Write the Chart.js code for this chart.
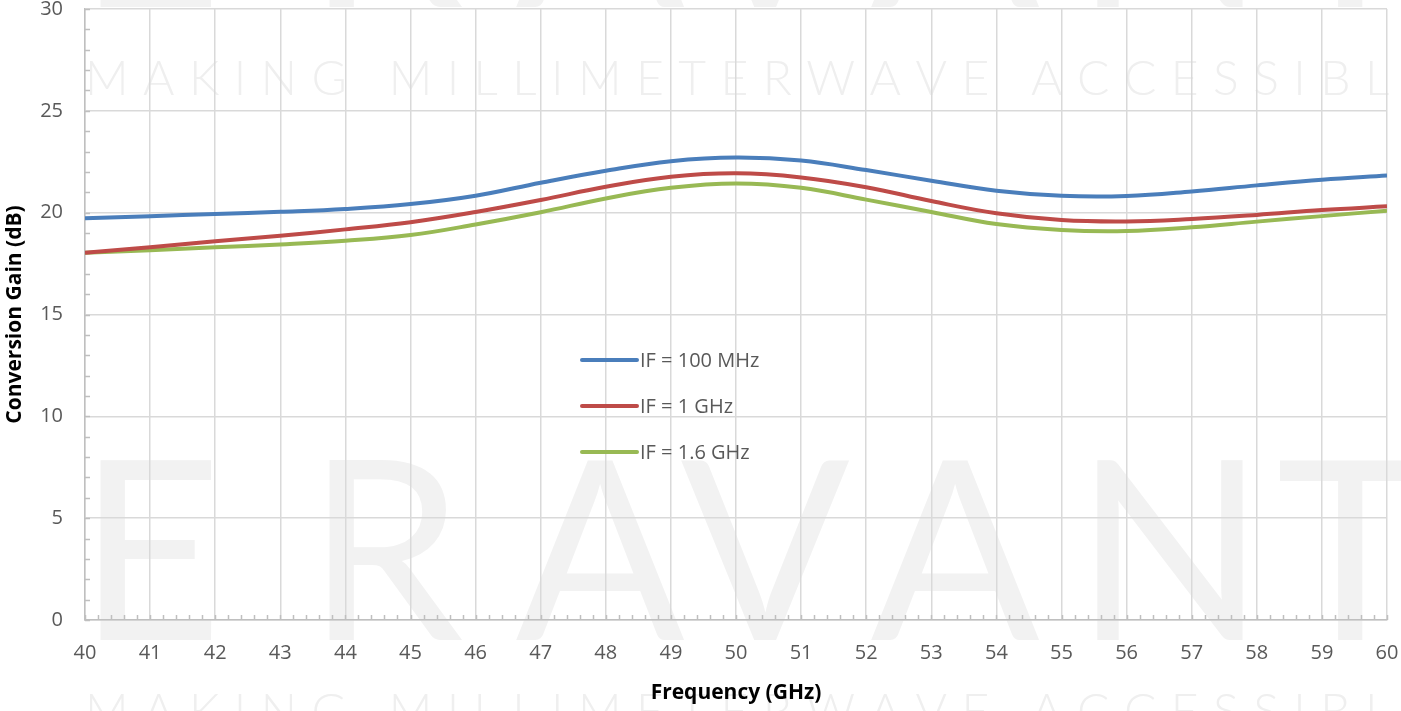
<!DOCTYPE html>
<html>
<head>
<meta charset="utf-8">
<script src="https://cdn.jsdelivr.net/npm/chart.js@4/dist/chart.umd.min.js"></script>
<style>
  body { margin: 0; background: #fff; }
  #wrap { width: 1401px; height: 711px; position: relative; }
</style>
</head>
<body>
<div id="wrap"><canvas id="gainChart"></canvas></div>
<script>
// frequency points (GHz)
const freqs = [40, 41, 42, 43, 44, 45, 46, 47, 48, 49, 50, 51, 52, 53, 54, 55, 56, 57, 58, 59, 60];

// conversion gain (dB)
const gain100MHz = [19.72, 19.83, 19.93, 20.04, 20.18, 20.42, 20.83, 21.47, 22.06, 22.53, 22.71,
                    22.56, 22.09, 21.57, 21.08, 20.83, 20.82, 21.04, 21.34, 21.62, 21.83];
const gain1GHz   = [18.03, 18.30, 18.60, 18.87, 19.18, 19.53, 20.03, 20.62, 21.27, 21.76, 21.93,
                    21.73, 21.25, 20.57, 19.97, 19.64, 19.57, 19.69, 19.89, 20.13, 20.31];
const gain1p6GHz = [18.03, 18.16, 18.30, 18.44, 18.62, 18.90, 19.42, 20.02, 20.70, 21.22, 21.43,
                    21.22, 20.64, 20.03, 19.44, 19.15, 19.10, 19.28, 19.56, 19.83, 20.10];

const seriesLabels = ['IF = 100 MHz', 'IF = 1 GHz', 'IF = 1.6 GHz'];
const seriesColors = ['#4a7ebb', '#be4b48', '#98b954'];

const textColor = '#595959';
const gridColor = '#d9d9d9';
const axisColor = '#bfbfbf';

function toPoints(values) {
    return freqs.map((f, i) => ({ x: f, y: values[i] }));
}

//draws the faint company watermark behind everything
const watermark = {
    id: 'watermark',
    beforeDraw(chart) {
        const ctx = chart.ctx;
        ctx.save();
        ctx.fillStyle = '#ffffff';
        ctx.fillRect(0, 0, chart.width, chart.height);

        //big logo letters
        ctx.fillStyle = '#f2f2f2';
        ctx.font = '400 250px Lato, Roboto, sans-serif';
        ctx.textAlign = 'center';
        ctx.textBaseline = 'alphabetic';
        const letters = ['E', 'R', 'A', 'V', 'A', 'N', 'T'];
        const centers = [150, 385, 600, 765, 955, 1170, 1350];
        [640, 7].forEach(base => {
            letters.forEach((ch, i) => ctx.fillText(ch, centers[i], base));
        });

        //spaced slogan
        ctx.fillStyle = '#efefef';
        ctx.font = '300 48px Lato, Roboto, sans-serif';
        ctx.textAlign = 'left';
        const slogan = 'MAKING MILLIMETERWAVE ACCESSIBLE';
        const chars = slogan.split('');
        let w = 0;
        for (let i = 0; i < 30; i++) w += ctx.measureText(chars[i]).width;
        const gap = (1365 - 85 - w) / 30;
        [95, 728].forEach(base => {
            let x = 85;
            chars.forEach(ch => {
                ctx.fillText(ch, x, base);
                x += ctx.measureText(ch).width + gap;
            });
        });
        ctx.restore();
    }
};

//small inside tick marks between the gridlines
const minorTicks = {
    id: 'minorTicks',
    beforeDatasetsDraw(chart) {
        const ctx = chart.ctx;
        const xs = chart.scales.x;
        const ys = chart.scales.y;
        const area = chart.chartArea;
        ctx.save();
        ctx.strokeStyle = axisColor;
        ctx.lineWidth = 1.5;
        ctx.beginPath();
        for (let v = 40; v <= 60.001; v += 0.2) {
            const px = Math.round(xs.getPixelForValue(v)) + 0.5;
            ctx.moveTo(px, area.bottom);
            ctx.lineTo(px, area.bottom - 5);
        }
        for (let v = 0; v <= 30; v += 1) {
            const py = Math.round(ys.getPixelForValue(v)) + 0.5;
            ctx.moveTo(area.left, py);
            ctx.lineTo(area.left + 5, py);
        }
        ctx.stroke();
        ctx.restore();
    }
};

//legend placed inside the plot, like the original
const innerLegend = {
    id: 'innerLegend',
    afterDatasetsDraw(chart) {
        const ctx = chart.ctx;
        const area = chart.chartArea;
        const x0 = area.left + 497;
        const y0 = area.top + 351;
        ctx.save();
        ctx.font = '20px "Open Sans", sans-serif';
        ctx.textBaseline = 'middle';
        ctx.textAlign = 'left';
        chart.data.datasets.forEach((ds, i) => {
            const y = y0 + i * 46;
            ctx.strokeStyle = ds.borderColor;
            ctx.lineWidth = 4;
            ctx.lineCap = 'round';
            ctx.beginPath();
            ctx.moveTo(x0, y);
            ctx.lineTo(x0 + 55, y);
            ctx.stroke();
            ctx.fillStyle = textColor;
            ctx.fillText(ds.label, x0 + 58, y + 1);
        });
        ctx.restore();
    }
};

const ctx = document.getElementById('gainChart').getContext('2d');
const seriesValues = [gain100MHz, gain1GHz, gain1p6GHz];

new Chart(ctx, {
    type: 'line',
    data: {
        datasets: seriesValues.map((vals, i) => ({
            label: seriesLabels[i],
            data: toPoints(vals),
            borderColor: seriesColors[i],
            backgroundColor: seriesColors[i],
            borderWidth: 4,
            pointRadius: 0,
            tension: 0.4,
            fill: false
        }))
    },
    options: {
        responsive: true,
        maintainAspectRatio: false,
        animation: false,
        layout: { padding: { top: 9, right: 14, left: 0, bottom: 0 } },
        plugins: {
            legend: { display: false },
            tooltip: { enabled: false }
        },
        scales: {
            x: {
                type: 'linear',
                min: 40,
                max: 60,
                afterFit: scale => {
                    scale.height = 91;
                    scale.paddingLeft = 0;
                    scale.paddingRight = 0;
                },
                ticks: {
                    stepSize: 1,
                    color: textColor,
                    font: { family: '"Open Sans", sans-serif', size: 20 },
                    padding: 21,
                    maxRotation: 0
                },
                grid: { color: gridColor, lineWidth: 1.5, drawTicks: false },
                border: { color: axisColor, width: 1.5 },
                title: {
                    display: true,
                    text: 'Frequency (GHz)',
                    color: '#000',
                    font: { family: '"Open Sans", sans-serif', size: 21, weight: 'bold' },
                    padding: { top: 0, bottom: 5 }
                }
            },
            y: {
                min: 0,
                max: 30,
                afterFit: scale => {
                    scale.width = 85;
                    scale.paddingTop = 0;
                    scale.paddingBottom = 0;
                },
                ticks: {
                    stepSize: 5,
                    color: textColor,
                    font: { family: '"Open Sans", sans-serif', size: 20 },
                    padding: 22
                },
                grid: { color: gridColor, lineWidth: 1.5, drawTicks: false },
                border: { color: axisColor, width: 1.5 },
                title: {
                    display: true,
                    text: 'Conversion Gain (dB)',
                    color: '#000',
                    font: { family: '"Open Sans", sans-serif', size: 21, weight: 'bold' },
                    padding: { top: 2, bottom: 0 }
                }
            }
        }
    },
    plugins: [watermark, minorTicks, innerLegend]
});
</script>
</body>
</html>
